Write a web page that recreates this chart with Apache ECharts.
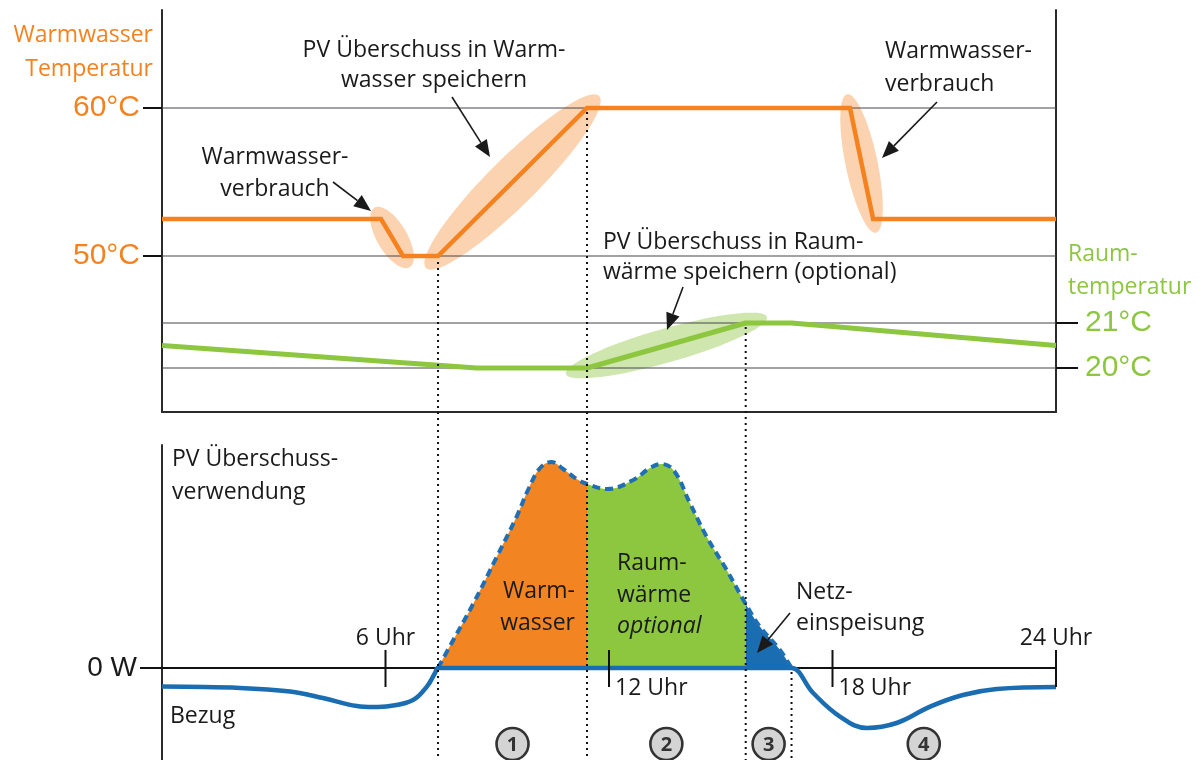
<!DOCTYPE html>
<html><head><meta charset="utf-8">
<script src="https://cdn.jsdelivr.net/npm/echarts@6/dist/echarts.min.js"></script>
<style>html,body{margin:0;padding:0;background:#fff}#c{width:1201px;height:760px}</style>
</head><body><div id="c"></div>
<script>
// ---------- data ----------
const HOURS_WW = [0, 5.88, 6.47, 7.41, 11.41, 18.47, 19.09, 24];
const TEMP_WW = [52.5, 52.5, 50, 50, 60, 60, 52.5, 52.5];
const HOURS_ROOM = [0, 8.45, 11.41, 15.67, 16.9, 24];
const TEMP_ROOM = [20.5, 20.0, 20.0, 21.0, 21.0, 20.5];
const HOURS_PV = [7.41, 7.82, 8.36, 8.99, 9.52, 9.85, 10.15, 10.45, 10.77, 11.13, 11.41, 11.95, 12.65, 13.1, 13.41, 13.75, 14.17, 14.62, 15.16, 15.67, 16.05, 16.59, 16.9];
const PV_SURPLUS = [0, 1.4, 3.23, 5.57, 7.57, 9.0, 10.0, 10.3, 9.95, 9.45, 9.2, 8.95, 9.4, 10.0, 10.2, 9.85, 8.25, 6.57, 4.9, 3.2, 2.07, 0.9, 0];
const HOURS_GRID = [0, 2.09, 3.44, 4.32, 5.23, 5.66, 6.12, 6.74, 7.11, 7.33, 7.41, 7.6, 16.7, 16.9, 17.48, 18.2, 18.92, 19.72, 20.62, 21.5, 22.41, 24];
const GRID_POWER = [-0.93, -1.0, -1.18, -1.5, -1.9, -1.95, -1.9, -1.6, -0.93, -0.25, 0, 0, 0, 0, -1.25, -2.43, -3.0, -2.75, -1.93, -1.35, -1.05, -0.95];
const PHASE_BOUNDS = [7.41, 11.41, 15.67, 16.9, 24];
const PHASE_LABELS = ['1', '2', '3', '4'];
const WW_TICKS = [50, 60];
const ROOM_TICKS = [20, 21];
const POWER_TICKS = [0];
const HOUR_TICKS = [6, 12, 18, 24];
const HOUR_LABELS = ['6 Uhr', '12 Uhr', '18 Uhr', '24 Uhr'];

// ---------- styling ----------
const ORANGE = '#F5821F', GREEN = '#8DC63F', BLUE = '#1B6DB1', INK = '#1a1a1a';
const FONT = '"Open Sans", "DejaVu Sans", sans-serif';
const SANS = '"Liberation Sans", Arial, sans-serif';
const zip = (a, b) => a.map((v, i) => [v, b[i]]);

const option = {
  animation: false,
  backgroundColor: '#fff',
  grid: [
    { left: 162, right: 145, top: 10, height: 402 },
    { left: 162, right: 145, top: 445, bottom: 0 }
  ],
  xAxis: [
    { gridIndex: 0, type: 'value', min: 0, max: 24, axisLine: { onZero: false, lineStyle: { color: '#2a2a2a', width: 2 } },
      axisTick: { show: false }, axisLabel: { show: false }, splitLine: { show: false } },
    { gridIndex: 1, type: 'value', min: 0, max: 24, axisLine: { onZero: true, lineStyle: { color: '#111', width: 2 } },
      axisTick: { show: false }, axisLabel: { show: false }, splitLine: { show: false } }
  ],
  yAxis: [
    { gridIndex: 0, type: 'value', min: 39.46, max: 66.62, position: 'left',
      axisLine: { show: true, onZero: false, lineStyle: { color: '#2a2a2a', width: 2 } },
      axisTick: { show: true, customValues: WW_TICKS, length: 19, lineStyle: { color: '#111', width: 2 } },
      axisLabel: { customValues: WW_TICKS, formatter: '{value}°C', color: ORANGE, fontSize: 30, fontFamily: SANS, margin: 22 },
      splitLine: { show: false } },
    { gridIndex: 0, type: 'value', min: 19.022, max: 27.956, position: 'right',
      axisLine: { show: true, onZero: false, lineStyle: { color: '#2a2a2a', width: 2 } },
      axisTick: { show: true, customValues: ROOM_TICKS, length: 22, lineStyle: { color: '#111', width: 2 } },
      axisLabel: { customValues: ROOM_TICKS, formatter: '{value}°C', color: GREEN, fontSize: 30, fontFamily: SANS, margin: 29 },
      splitLine: { show: false } },
    { gridIndex: 1, type: 'value', min: -4.6, max: 11.15, position: 'left',
      axisLine: { show: true, onZero: false, lineStyle: { color: '#2a2a2a', width: 2 } },
      axisTick: { show: true, customValues: POWER_TICKS, length: 22, lineStyle: { color: '#111', width: 2 } },
      axisLabel: { customValues: POWER_TICKS, formatter: () => '0 W', color: INK, fontSize: 28, fontFamily: SANS, margin: 25 },
      splitLine: { show: false } }
  ],
  visualMap: [{
    show: false, type: 'piecewise', seriesIndex: 2, dimension: 0,
    pieces: [
      { lt: PHASE_BOUNDS[1], color: '#F28421' },
      { gte: PHASE_BOUNDS[1], lt: PHASE_BOUNDS[2], color: GREEN },
      { gte: PHASE_BOUNDS[2], color: BLUE }
    ]
  }],
  series: [
    { type: 'line', xAxisIndex: 0, yAxisIndex: 0, data: zip(HOURS_WW, TEMP_WW), showSymbol: false, z: 3,
      lineStyle: { color: ORANGE, width: 4.5, join: 'miter' }, itemStyle: { color: ORANGE } },
    { type: 'line', xAxisIndex: 0, yAxisIndex: 1, data: zip(HOURS_ROOM, TEMP_ROOM), showSymbol: false, z: 3,
      lineStyle: { color: GREEN, width: 5 }, itemStyle: { color: GREEN } },
    { type: 'line', xAxisIndex: 1, yAxisIndex: 2, data: zip(HOURS_PV, PV_SURPLUS), showSymbol: false, smooth: 0.4, z: 2,
      lineStyle: { width: 0, opacity: 0 }, areaStyle: { opacity: 1 } },
    { type: 'line', xAxisIndex: 1, yAxisIndex: 2, data: zip(HOURS_PV, PV_SURPLUS), showSymbol: false, smooth: 0.4, z: 3,
      lineStyle: { color: '#1F6FB6', width: 4, type: [8, 5] }, itemStyle: { color: '#1F6FB6' } },
    { type: 'line', xAxisIndex: 1, yAxisIndex: 2, data: zip(HOURS_GRID, GRID_POWER), showSymbol: false, smooth: 0.4, z: 4,
      lineStyle: { color: BLUE, width: 4.5 }, itemStyle: { color: BLUE } }
  ]
};

const chart = echarts.init(document.getElementById('c'), null, { renderer: 'canvas' });
chart.setOption(option);

// ---------- annotations ----------
const P = (xi, yi, h, v) => chart.convertToPixel({ xAxisIndex: xi, yAxisIndex: yi }, [h, v]);
const interp = (xs, ys, x) => {
  for (let i = 1; i < xs.length; i++) if (x <= xs[i]) { const t = (x - xs[i - 1]) / (xs[i] - xs[i - 1] || 1); return ys[i - 1] + t * (ys[i] - ys[i - 1]); }
  return ys[ys.length - 1];
};
const g = [];
const seg = (a, b, stroke, lw, dash, z) => g.push({ type: 'line', silent: true, z: z || 1,
  shape: { x1: a[0], y1: a[1], x2: b[0], y2: b[1] }, style: { stroke, lineWidth: lw, lineDash: dash || null } });
const txt = (text, x, y, align, opts) => {
  opts = opts || {};
  g.push({ type: 'text', silent: true, z: 10, x, y, style: {
    text, fill: opts.color || INK, font: (opts.style || '') + ' ' + (opts.weight || '') + ' ' + (opts.size || 23) + 'px ' + (opts.family || FONT),
    align, textAlign: align, verticalAlign: 'middle', textVerticalAlign: 'middle', lineHeight: opts.lh || 31 } });
};
const arrow = (from, to) => {
  const dx = to[0] - from[0], dy = to[1] - from[1], L = Math.hypot(dx, dy), ux = dx / L, uy = dy / L;
  const hl = 17, hw = 7;
  const base = [to[0] - ux * hl, to[1] - uy * hl];
  seg(from, base, INK, 1.6, null, 9);
  g.push({ type: 'polygon', silent: true, z: 9, shape: { points: [to, [base[0] - uy * hw, base[1] + ux * hw], [base[0] + uy * hw, base[1] - ux * hw]] }, style: { fill: INK } });
};
const ellipse = (p1, p2, pad, r, fill) => {
  const cx = (p1[0] + p2[0]) / 2, cy = (p1[1] + p2[1]) / 2;
  const ang = Math.atan2(p2[1] - p1[1], p2[0] - p1[0]);
  const L = Math.hypot(p2[0] - p1[0], p2[1] - p1[1]) / 2 + pad;
  const pts = [];
  for (let i = 0; i < 90; i++) {
    const t = i / 90 * Math.PI * 2, ex = L * Math.cos(t), ey = r * Math.sin(t);
    pts.push([cx + ex * Math.cos(ang) - ey * Math.sin(ang), cy + ex * Math.sin(ang) + ey * Math.cos(ang)]);
  }
  g.push({ type: 'polygon', silent: true, z: 0, shape: { points: pts }, style: { fill } });
};

// grid lines (top panel)
WW_TICKS.forEach(t => seg(P(0, 0, 0, t), P(0, 0, 24, t), '#46464f', 1.2));
ROOM_TICKS.forEach(t => seg(P(0, 1, 0, t), P(0, 1, 24, t), '#46464f', 1.2));

// highlight ellipses
const OR_HL = 'rgba(246,140,50,0.38)', GR_HL = 'rgba(141,198,63,0.42)';
const wwPx = i => P(0, 0, HOURS_WW[i], TEMP_WW[i]);
const roomPx = i => P(0, 1, HOURS_ROOM[i], TEMP_ROOM[i]);
ellipse(wwPx(1), wwPx(2), 13, 15, OR_HL);
ellipse(wwPx(3), wwPx(4), 17, 24, OR_HL);
ellipse(wwPx(5), wwPx(6), 14, 16, OR_HL);
ellipse(roomPx(2), roomPx(3), 22, 17, GR_HL);

// dotted phase separators
const H = chart.getHeight();
const sepStart = [
  P(0, 0, PHASE_BOUNDS[0], interp(HOURS_WW, TEMP_WW, PHASE_BOUNDS[0])),
  P(0, 0, PHASE_BOUNDS[1], interp(HOURS_WW, TEMP_WW, PHASE_BOUNDS[1])),
  P(0, 1, PHASE_BOUNDS[2], interp(HOURS_ROOM, TEMP_ROOM, PHASE_BOUNDS[2])),
  P(1, 2, PHASE_BOUNDS[3], 0)
];
sepStart.forEach((p, i) => seg([p[0], p[1] + (i === 0 ? 6 : 4)], [p[0], H], '#111', 2, [2, 4], 5));

// hour ticks & labels on bottom axis
HOUR_TICKS.forEach((h, i) => {
  const p = P(1, 2, h, 0);
  seg([p[0], p[1] - 18], [p[0], p[1] + 19], '#111', 2, null, 6);
  if (i === 0 || i === HOUR_TICKS.length - 1) txt(HOUR_LABELS[i], p[0], p[1] - 30, 'center');
  else txt(HOUR_LABELS[i], p[0] + 6, p[1] + 20, 'left');
});

// phase circles
PHASE_LABELS.forEach((lab, i) => {
  const p = P(1, 2, (PHASE_BOUNDS[i] + PHASE_BOUNDS[i + 1]) / 2, 0);
  g.push({ type: 'circle', silent: true, z: 8, shape: { cx: p[0], cy: p[1] + 76, r: 16 }, style: { fill: '#d4d4d4', stroke: '#333', lineWidth: 2.6 } });
  txt(lab, p[0], p[1] + 77, 'center', { weight: 'bold', size: 20, color: '#333' });
});

// texts
txt('Warmwasser\nTemperatur', 153, 52, 'right', { color: ORANGE, lh: 34 });
txt('Raum-\ntemperatur', 1068, 271, 'left', { color: GREEN, lh: 33 });
txt('PV Überschuss in Warm-\nwasser speichern', 434, 65, 'center', { lh: 30 });
txt('Warmwasser-\nverbrauch', 275, 173, 'center', { lh: 32 });
txt('Warmwasser-\nverbrauch', 885, 68, 'left', { lh: 33 });
txt('PV Überschuss in Raum-\nwärme speichern (optional)', 603, 257, 'left', { lh: 30 });
txt('PV Überschuss-\nverwendung', 172, 476, 'left', { lh: 33 });
txt('Bezug', 170, 716, 'left');
txt('Warm-\nwasser', 575, 607, 'right', { lh: 32 });
txt('Raum-\nwärme', 617, 579, 'left', { lh: 32 });
txt('optional', 617, 626, 'left', { style: 'italic' });
txt('Netz-\neinspeisung', 796, 608, 'left', { lh: 31 });

// arrows
arrow([333, 182], [371, 211]);
arrow([452, 97], [490, 157]);
arrow([937, 102], [882, 158]);
arrow([683, 287], [667, 330]);
arrow([790, 613], [757, 653]);

chart.setOption({ graphic: { elements: g } });
</script>
</body></html>
